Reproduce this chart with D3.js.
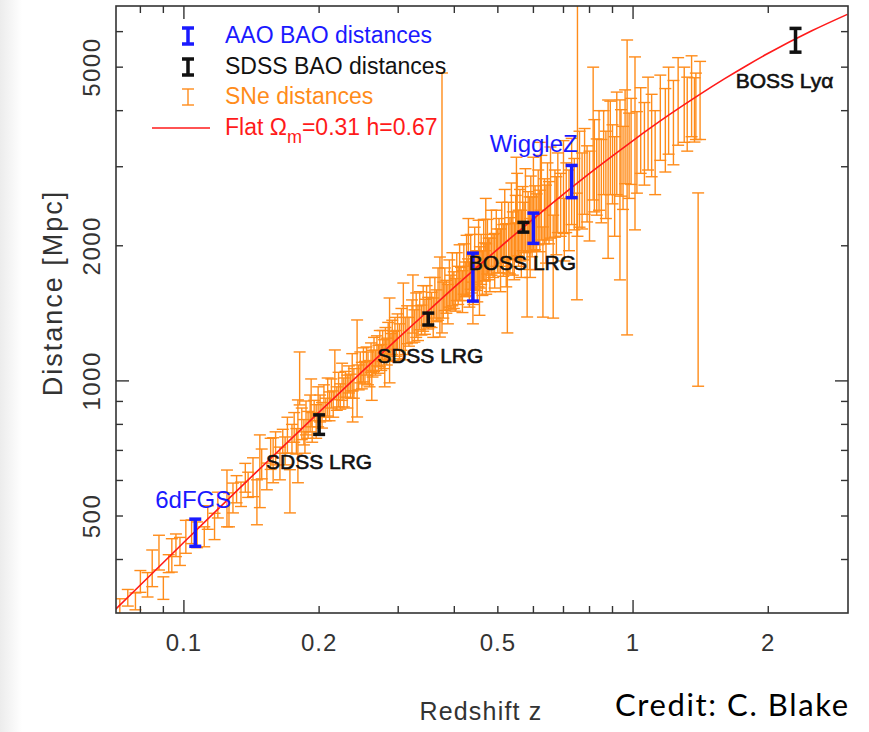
<!DOCTYPE html>
<html>
<head>
<meta charset="utf-8">
<script src="https://cdn.jsdelivr.net/npm/d3@7"></script>
<style>
  body { margin: 0; background: #fff; }
  svg { display: block; }
</style>
</head>
<body>
<svg id="chart" width="869" height="732"></svg>
<script>
// tick values
const xTickLabels = [0.1, 0.2, 0.5, 1, 2];
const xMinorTicks = [0.08, 0.09, 0.3, 0.4, 0.6, 0.7, 0.8, 0.9, 3];
const yTickLabels = [500, 1000, 2000, 5000];
const yMinorTicks = [400, 600, 700, 800, 900, 3000, 4000, 6000];

// model curve, flat Om=0.31 h=0.67 (redshift, comoving distance in Mpc)
const curveZ = [0.07, 0.08, 0.09, 0.1, 0.12, 0.15, 0.2, 0.25, 0.3, 0.35, 0.4, 0.45, 0.5, 0.6, 0.7, 0.8, 0.9, 1.0, 1.2, 1.4, 1.6, 1.8, 2.0, 2.5, 3.0];
const curveD = [308, 351, 394, 437, 522, 647, 852, 1051, 1245, 1433, 1617, 1795, 1967, 2296, 2606, 2898, 3173, 3432, 3908, 4332, 4713, 5057, 5369, 6025, 6555];

// BAO measurements
const baoSurvey = ["AAO", "SDSS", "SDSS", "AAO", "SDSS", "AAO", "AAO", "SDSS"];
const baoZ = [0.106, 0.20, 0.35, 0.44, 0.57, 0.60, 0.73, 2.30];
const baoD = [460, 800, 1374, 1716, 2200, 2195, 2790, 5750];
const baoErr = [32, 40, 42, 210, 55, 170, 230, 350];

// supernova distances [z, D, err]
const sneData = [
  [0.072,311,16],[0.075,329,14],[0.078,323,14],[0.080,358,20],[0.083,352,22],[0.085,384,36],[0.088,416,37],
  [0.090,346,20],[0.0925,392,18],[0.094,410,35],[0.096,431,25],[0.098,418,30],
  [0.101,451,38],[0.104,462,28],[0.107,455,30],[0.111,450,23],[0.113,497,30],[0.117,475,32],[0.119,530,35],
  [0.1247,553,80],[0.126,518,45],[0.1286,550,42],[0.131,575,40],[0.134,560,35],[0.137,610,45],[0.139,588,38],
  [0.1425,613,61],[0.1454,540,62],[0.1476,640,118],[0.149,655,50],
  [0.153,614,42],[0.156,690,55],[0.158,670,77],[0.160,710,60],[0.1636,657,55],[0.166,735,45],[0.168,700,50],
  [0.170,760,70],[0.1722,571,63],[0.174,745,55],[0.176,790,60],[0.178,735,48],[0.1794,750,157],[0.181,1022,138],
  [0.183,805,65],[0.185,770,50],[0.186,730,40],[0.187,830,72],[0.189,800,55],[0.191,850,80],[0.192,900,110],
  [0.193,790,60],[0.195,860,45],[0.197,815,70],[0.199,880,90],
  [0.201,870,60],[0.203,840,55],[0.205,905,75],[0.207,865,50],[0.209,925,90],[0.211,880,65],[0.213,940,70],
  [0.215,890,60],[0.2168,1040,132],[0.219,915,55],[0.221,960,85],[0.223,925,60],[0.225,1000,95],[0.227,945,70],
  [0.229,985,65],[0.231,950,80],[0.233,1010,70],[0.235,975,60],[0.2375,880,70],[0.237,1050,100],[0.239,990,75],
  [0.243,1099,268],[0.245,1020,65],[0.247,1075,85],[0.249,1030,70],[0.251,1090,95],[0.253,1045,60],[0.255,1110,80],
  [0.257,1070,90],[0.259,1040,70],[0.261,1130,85],[0.262,980,75],[0.263,1095,75],[0.265,1150,100],[0.267,1100,70],
  [0.269,1170,90],[0.271,1120,80],[0.273,1185,110],[0.275,1130,75],[0.277,1200,95],[0.279,1150,85],[0.280,1060,90],
  [0.281,1215,100],[0.283,1165,80],[0.285,1230,120],[0.287,1260,270],[0.289,1190,85],[0.291,1255,110],
  [0.293,1200,90],[0.295,1280,105],[0.297,1215,80],[0.299,1290,120],
  [0.302,1230,110],[0.305,1310,140],[0.308,1383,269],[0.311,1265,120],[0.314,1340,130],[0.317,1290,95],
  [0.322,1365,150],[0.3235,1500,222],[0.326,1330,110],[0.329,1410,160],[0.332,1350,120],[0.335,1440,140],
  [0.338,1370,105],[0.341,1460,170],[0.344,1395,125],[0.347,1480,150],[0.350,1420,115],[0.353,1510,190],
  [0.356,1445,130],[0.359,1390,140],[0.362,1540,160],[0.365,1475,120],[0.368,1575,210],[0.3715,1570,318],
  [0.3755,3066,1787],[0.378,1520,140],[0.381,1610,175],[0.384,1545,130],[0.387,1490,150],[0.390,1660,200],
  [0.393,1580,140],[0.396,1700,230],[0.399,1600,150],[0.402,1560,130],[0.405,1720,210],[0.408,1640,160],
  [0.411,1760,250],[0.414,1650,140],[0.417,1590,170],[0.420,1790,230],[0.423,1690,150],[0.426,1830,280],
  [0.429,1710,160],[0.430,2050,250],[0.432,1650,190],[0.435,1860,260],[0.438,1740,170],[0.440,1500,160],
  [0.441,1690,210],[0.444,1900,300],[0.447,1770,180],[0.450,1720,220],[0.453,1950,330],[0.455,1600,200],
  [0.456,1800,190],[0.459,1880,240],[0.462,1750,200],[0.465,1980,310],[0.468,1850,180],[0.470,2250,300],
  [0.471,1790,230],[0.474,2010,280],[0.477,1880,200],[0.480,1830,250],[0.484,2060,340],[0.488,1910,210],
  [0.492,1870,260],[0.496,2100,300],[0.499,1960,220],
  [0.503,2020,280],[0.507,1880,300],[0.510,2150,350],[0.514,1970,260],[0.518,2250,420],[0.522,1930,310],
  [0.525,1584,305],[0.528,2120,380],[0.532,2020,290],[0.536,2310,450],[0.540,2050,330],[0.544,1960,280],
  [0.548,2230,360],[0.550,2700,450],[0.552,2400,500],[0.556,2100,300],[0.560,2260,410],[0.564,2050,350],
  [0.568,2330,380],[0.572,2180,320],[0.576,2450,520],[0.581,1818,430],[0.584,2290,350],[0.588,2170,400],
  [0.590,2000,300],[0.592,2400,460],[0.596,2230,340],[0.600,2550,600],[0.605,2340,380],[0.610,2190,420],
  [0.615,2480,470],[0.620,2300,360],[0.622,2900,500],[0.625,2620,560],[0.630,1795,408],[0.635,2420,400],
  [0.640,2280,450],[0.645,2560,500],[0.650,2400,380],[0.655,2700,620],[0.664,1860,480],[0.670,2520,430],
  [0.675,2380,470],[0.680,2680,540],[0.690,2500,400],[0.700,2780,650],[0.703,2200,350],[0.710,2600,460],
  [0.720,2450,500],[0.730,2850,620],[0.740,2650,480],[0.750,2068,552],[0.752,4700,2600],[0.760,2900,700],
  [0.770,2700,520],[0.780,3000,650],[0.790,2800,540],[0.800,2650,600],[0.815,3765,1235],[0.820,3100,720],
  [0.830,2900,560],[0.840,3200,800],[0.850,2850,600],
  [0.860,3300,700],[0.870,2950,650],[0.880,3050,1175],[0.890,3400,800],[0.900,3100,620],[0.910,2800,700],
  [0.920,3500,900],[0.935,2953,1274],[0.940,3300,720],[0.950,3050,640],[0.960,3600,850],[0.970,3507,2241],
  [0.980,3250,700],[0.990,3500,760],[1.010,3720,1550],[1.020,3300,680],[1.040,3700,800],[1.060,3450,720],
  [1.080,3850,900],[1.100,3600,750],[1.120,3300,700],[1.150,3950,850],[1.180,3700,780],[1.200,4100,900],
  [1.230,3850,820],[1.260,4300,950],[1.300,4200,800],[1.320,4000,750],[1.350,4400,900],[1.370,4070,665],
  [1.380,4150,700],[1.396,1798,825],[1.410,4300,850]
];

// legend entries
const legendLabels = ["AAO BAO distances", "SDSS BAO distances", "SNe distances"];
const legendColors = ["#1a1aff", "#111", "#ff8c1a"];

// text labels next to the BAO points: [text, bao index, dx, dy, colour]
const annotations = [
  ["6dFGS", 0, -2, -24, "#1a1aff"],
  ["SDSS LRG", 1, 0, 45, "#111"],
  ["SDSS LRG", 2, 2, 44, "#111"],
  ["BOSS LRG", 4, -1, 43, "#111"],
  ["WiggleZ", 6, -38, -29, "#1a1aff"],
  ["BOSS Ly\u03b1", 7, -11, 48, "#111"]
];

const svg = d3.select("#chart");
const plotLeft = 116, plotRight = 848, plotTop = 6, plotBottom = 613;
const orange = "#ff8c1a";
const plotFont = "'Liberation Sans', Arial, sans-serif";

// faint grey strip at the left edge of the slide
const defs = svg.append("defs");
const grad = defs.append("linearGradient").attr("id", "edge");
grad.append("stop").attr("offset", "0%").attr("stop-color", "#ececec");
grad.append("stop").attr("offset", "100%").attr("stop-color", "#fff");
svg.append("rect").attr("x", 0).attr("y", 0).attr("width", 22).attr("height", 732).attr("fill", "url(#edge)");

defs.append("clipPath").attr("id", "plotclip")
  .append("rect").attr("x", plotLeft).attr("y", plotTop)
  .attr("width", plotRight - plotLeft).attr("height", plotBottom - plotTop);

let xScale = d3.scaleLog().domain([0.0706, 3.01]).range([plotLeft, plotRight]);
let yScale = d3.scaleLog().domain([304, 6843]).range([plotBottom, plotTop]);

let body = svg.append("g").attr("clip-path", "url(#plotclip)");

// error bar with caps
function drawErrorBar(g, x, y1, y2, half) {
  g.append("line").attr("x1", x).attr("x2", x).attr("y1", y1).attr("y2", y2);
  g.append("line").attr("x1", x - half).attr("x2", x + half).attr("y1", y1).attr("y2", y1);
  g.append("line").attr("x1", x - half).attr("x2", x + half).attr("y1", y2).attr("y2", y2);
}

let sneG = body.append("g").attr("stroke", orange).attr("stroke-width", 1.4);
sneData.forEach(d => {
  drawErrorBar(sneG, xScale(d[0]), yScale(d[1] + d[2]), yScale(Math.max(d[1] - d[2], 200)), 6);
});

// model line
let curve = curveZ.map((z, i) => ({ z: z, d: curveD[i] }));
let valueLine = d3.line()
  .x(d => xScale(d.z))
  .y(d => yScale(d.d))
  .curve(d3.curveMonotoneX);
body.append("path")
  .datum(curve)
  .attr("d", valueLine)
  .attr("fill", "none")
  .attr("stroke", "#ff1a1a")
  .attr("stroke-width", 1.6);

// BAO points
baoZ.forEach((z, i) => {
  let g = svg.append("g")
    .attr("stroke", baoSurvey[i] == "AAO" ? "#1a1aff" : "#111")
    .attr("stroke-width", 3.5);
  drawErrorBar(g, xScale(z), yScale(baoD[i] + baoErr[i]), yScale(baoD[i] - baoErr[i]), 6);
});

// annotations
annotations.forEach(a => {
  let i = a[1];
  let dark = a[4] == "#111";
  svg.append("text")
    .attr("x", xScale(baoZ[i]) + a[2])
    .attr("y", yScale(baoD[i]) + a[3])
    .attr("text-anchor", "middle")
    .attr("font-family", plotFont)
    .attr("font-size", dark ? 21 : 24)
    .attr("fill", a[4])
    .attr("stroke", dark ? a[4] : "none")
    .attr("stroke-width", dark ? 0.6 : 0)
    .text(a[0]);
});

// frame
svg.append("rect")
  .attr("x", plotLeft).attr("y", plotTop)
  .attr("width", plotRight - plotLeft).attr("height", plotBottom - plotTop)
  .attr("fill", "none").attr("stroke", "#333").attr("stroke-width", 1.6);

// ticks on all four sides, pointing inwards
let tickG = svg.append("g").attr("stroke", "#333").attr("stroke-width", 1.4);
function tickLen(v) { return Math.abs(Math.log10(v) - Math.round(Math.log10(v))) < 1e-6 ? 13 : 7; }
xTickLabels.concat(xMinorTicks).forEach(v => {
  let x = xScale(v), l = tickLen(v);
  if (x >= plotRight - 1) return;
  tickG.append("line").attr("x1", x).attr("x2", x).attr("y1", plotBottom).attr("y2", plotBottom - l);
  tickG.append("line").attr("x1", x).attr("x2", x).attr("y1", plotTop).attr("y2", plotTop + l);
});
yTickLabels.concat(yMinorTicks).forEach(v => {
  let y = yScale(v), l = tickLen(v);
  tickG.append("line").attr("x1", plotLeft).attr("x2", plotLeft + l).attr("y1", y).attr("y2", y);
  tickG.append("line").attr("x1", plotRight).attr("x2", plotRight - l).attr("y1", y).attr("y2", y);
});

// tick labels
svg.append("g").selectAll("text")
  .data(xTickLabels)
  .enter()
  .append("text")
  .attr("x", d => xScale(d))
  .attr("y", 651)
  .attr("text-anchor", "middle")
  .attr("font-family", plotFont)
  .attr("font-size", 24)
  .attr("letter-spacing", 1)
  .attr("fill", "#333")
  .text(d => d);

svg.append("g").selectAll("text")
  .data(yTickLabels)
  .enter()
  .append("text")
  .attr("transform", d => "translate(100," + yScale(d) + ") rotate(-90)")
  .attr("text-anchor", "middle")
  .attr("font-family", plotFont)
  .attr("font-size", 24)
  .attr("letter-spacing", 1.5)
  .attr("fill", "#333")
  .text(d => d);

// axis titles
svg.append("text")
  .attr("transform", "translate(62,293) rotate(-90)")
  .attr("text-anchor", "middle")
  .attr("font-family", plotFont)
  .attr("font-size", 27)
  .attr("letter-spacing", 2)
  .attr("fill", "#333")
  .text("Distance  [Mpc]");

svg.append("text")
  .attr("x", 481).attr("y", 720)
  .attr("text-anchor", "middle")
  .attr("font-family", plotFont)
  .attr("font-size", 25)
  .attr("letter-spacing", 1.2)
  .attr("fill", "#333")
  .text("Redshift  z");

svg.append("text")
  .attr("x", 615).attr("y", 716)
  .attr("font-family", "Lato, 'Noto Sans', sans-serif")
  .attr("font-size", 31)
  .attr("textLength", 233)
  .attr("fill", "#000")
  .text("Credit: C. Blake");

// legend
let legendY = [36, 67, 97];
legendLabels.forEach((t, i) => {
  let g = svg.append("g").attr("stroke", legendColors[i]).attr("stroke-width", i < 2 ? 3.5 : 1.4);
  drawErrorBar(g, 188, legendY[i] - 8, legendY[i] + 8, 6);
  svg.append("text")
    .attr("x", 225).attr("y", legendY[i] + 7)
    .attr("font-family", plotFont)
    .attr("font-size", 23)
    .attr("fill", legendColors[i])
    .text(t);
});
svg.append("line")
  .attr("x1", 152).attr("x2", 210).attr("y1", 128).attr("y2", 128)
  .attr("stroke", "#ff1a1a").attr("stroke-width", 1.6);
let fitText = svg.append("text")
  .attr("x", 225).attr("y", 135)
  .attr("font-family", plotFont)
  .attr("font-size", 23)
  .attr("fill", "#ff1a1a");
fitText.append("tspan").text("Flat \u03a9");
fitText.append("tspan").attr("dy", 8).attr("font-size", 18).text("m");
fitText.append("tspan").attr("dy", -8).text("=0.31 h=0.67");
</script>
</body>
</html>
